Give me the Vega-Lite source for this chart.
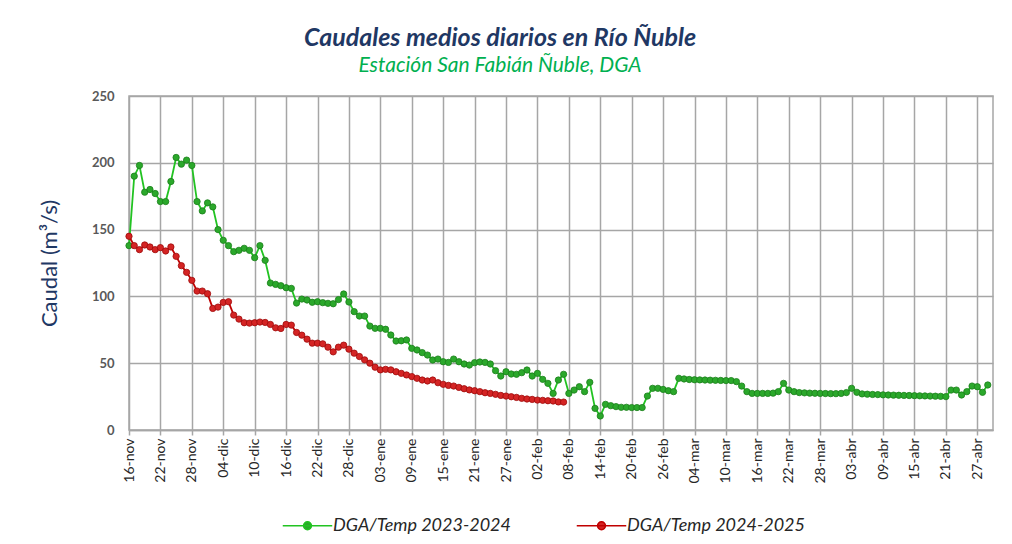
{
  "$schema": "https://vega.github.io/schema/vega-lite/v6.json",
  "width": 864,
  "height": 334,
  "autosize": {"type": "none"},
  "padding": {"left": 129, "top": 96, "right": 19, "bottom": 114},
  "background": "white",
  "config": {
    "font": "Lato",
    "view": {"stroke": "#A6A6A6", "strokeWidth": 1.5}
  },
  "title": {
    "text": "Caudales medios diarios en Río Ñuble",
    "subtitle": "Estación San Fabián Ñuble, DGA",
    "anchor": "middle",
    "dx": -61,
    "offset": 14,
    "font": "Lato",
    "fontSize": 25,
    "fontStyle": "italic",
    "fontWeight": "bold",
    "color": "#1F3864",
    "subtitleFont": "Lato",
    "subtitleFontSize": 21,
    "subtitleFontStyle": "italic",
    "subtitleColor": "#00B050",
    "subtitlePadding": 4
  },
  "data": {
    "values": [
      {"f": "2024-11-16", "a": 138, "b": 145},
      {"f": "2024-11-17", "a": 190, "b": 138},
      {"f": "2024-11-18", "a": 198, "b": 135},
      {"f": "2024-11-19", "a": 178, "b": 138.5},
      {"f": "2024-11-20", "a": 180, "b": 137},
      {"f": "2024-11-21", "a": 177, "b": 135},
      {"f": "2024-11-22", "a": 171, "b": 136.5},
      {"f": "2024-11-23", "a": 171, "b": 134},
      {"f": "2024-11-24", "a": 186, "b": 137},
      {"f": "2024-11-25", "a": 204, "b": 130},
      {"f": "2024-11-26", "a": 199, "b": 123},
      {"f": "2024-11-27", "a": 202, "b": 118},
      {"f": "2024-11-28", "a": 198, "b": 112},
      {"f": "2024-11-29", "a": 171, "b": 104},
      {"f": "2024-11-30", "a": 164, "b": 104},
      {"f": "2024-12-01", "a": 170, "b": 102},
      {"f": "2024-12-02", "a": 167, "b": 91},
      {"f": "2024-12-03", "a": 150, "b": 92},
      {"f": "2024-12-04", "a": 142, "b": 95.5},
      {"f": "2024-12-05", "a": 138, "b": 96},
      {"f": "2024-12-06", "a": 133.5, "b": 86},
      {"f": "2024-12-07", "a": 134.5, "b": 83},
      {"f": "2024-12-08", "a": 136, "b": 80.3},
      {"f": "2024-12-09", "a": 134.5, "b": 80},
      {"f": "2024-12-10", "a": 129, "b": 80.3},
      {"f": "2024-12-11", "a": 138, "b": 80.8},
      {"f": "2024-12-12", "a": 127, "b": 80.5},
      {"f": "2024-12-13", "a": 110, "b": 79},
      {"f": "2024-12-14", "a": 109, "b": 76.5},
      {"f": "2024-12-15", "a": 108, "b": 76},
      {"f": "2024-12-16", "a": 106.5, "b": 79},
      {"f": "2024-12-17", "a": 106, "b": 78.5},
      {"f": "2024-12-18", "a": 95, "b": 73},
      {"f": "2024-12-19", "a": 98, "b": 71},
      {"f": "2024-12-20", "a": 97.3, "b": 68},
      {"f": "2024-12-21", "a": 95.6, "b": 65},
      {"f": "2024-12-22", "a": 96, "b": 65},
      {"f": "2024-12-23", "a": 95.3, "b": 64.5},
      {"f": "2024-12-24", "a": 94.8, "b": 62},
      {"f": "2024-12-25", "a": 94.5, "b": 58.5},
      {"f": "2024-12-26", "a": 97.6, "b": 62},
      {"f": "2024-12-27", "a": 101.8, "b": 63.5},
      {"f": "2024-12-28", "a": 95.8, "b": 60.5},
      {"f": "2024-12-29", "a": 88.6, "b": 57.5},
      {"f": "2024-12-30", "a": 85.3, "b": 55},
      {"f": "2024-12-31", "a": 85.3, "b": 52.5},
      {"f": "2025-01-01", "a": 77.8, "b": 50},
      {"f": "2025-01-02", "a": 76.1, "b": 47},
      {"f": "2025-01-03", "a": 76.1, "b": 45},
      {"f": "2025-01-04", "a": 75.4, "b": 45.4},
      {"f": "2025-01-05", "a": 71.1, "b": 45},
      {"f": "2025-01-06", "a": 66.6, "b": 43.6},
      {"f": "2025-01-07", "a": 66.8, "b": 42.4},
      {"f": "2025-01-08", "a": 67.4, "b": 41.2},
      {"f": "2025-01-09", "a": 61.1, "b": 40},
      {"f": "2025-01-10", "a": 59.9, "b": 38.7},
      {"f": "2025-01-11", "a": 57.9, "b": 37.4},
      {"f": "2025-01-12", "a": 56.1, "b": 36.7},
      {"f": "2025-01-13", "a": 52.4, "b": 37.4},
      {"f": "2025-01-14", "a": 53.1, "b": 35.4},
      {"f": "2025-01-15", "a": 51.1, "b": 34.2},
      {"f": "2025-01-16", "a": 50.6, "b": 33.4},
      {"f": "2025-01-17", "a": 53.1, "b": 32.9},
      {"f": "2025-01-18", "a": 51.1, "b": 31.9},
      {"f": "2025-01-19", "a": 49.4, "b": 30.9},
      {"f": "2025-01-20", "a": 48.6, "b": 30},
      {"f": "2025-01-21", "a": 50.4, "b": 29.4},
      {"f": "2025-01-22", "a": 50.9, "b": 28.7},
      {"f": "2025-01-23", "a": 50.6, "b": 27.9},
      {"f": "2025-01-24", "a": 49.4, "b": 27.4},
      {"f": "2025-01-25", "a": 44.4, "b": 26.7},
      {"f": "2025-01-26", "a": 40.4, "b": 25.9},
      {"f": "2025-01-27", "a": 43.6, "b": 25.4},
      {"f": "2025-01-28", "a": 41.9, "b": 24.9},
      {"f": "2025-01-29", "a": 41.7, "b": 24.4},
      {"f": "2025-01-30", "a": 42.9, "b": 23.7},
      {"f": "2025-01-31", "a": 44.9, "b": 23.2},
      {"f": "2025-02-01", "a": 40.4, "b": 22.9},
      {"f": "2025-02-02", "a": 42.4, "b": 22.4},
      {"f": "2025-02-03", "a": 37.9, "b": 22.2},
      {"f": "2025-02-04", "a": 34.9, "b": 21.9},
      {"f": "2025-02-05", "a": 27.4, "b": 21.7},
      {"f": "2025-02-06", "a": 37.4, "b": 21},
      {"f": "2025-02-07", "a": 41.7, "b": 20.9},
      {"f": "2025-02-08", "a": 27.4},
      {"f": "2025-02-09", "a": 29.9},
      {"f": "2025-02-10", "a": 32.4},
      {"f": "2025-02-11", "a": 28.7},
      {"f": "2025-02-12", "a": 35.7},
      {"f": "2025-02-13", "a": 16.2},
      {"f": "2025-02-14", "a": 10.5},
      {"f": "2025-02-15", "a": 19.2},
      {"f": "2025-02-16", "a": 18.2},
      {"f": "2025-02-17", "a": 17.5},
      {"f": "2025-02-18", "a": 17},
      {"f": "2025-02-19", "a": 17},
      {"f": "2025-02-20", "a": 16.8},
      {"f": "2025-02-21", "a": 16.8},
      {"f": "2025-02-22", "a": 16.8},
      {"f": "2025-02-23", "a": 25.4},
      {"f": "2025-02-24", "a": 31.2},
      {"f": "2025-02-25", "a": 31.2},
      {"f": "2025-02-26", "a": 30.4},
      {"f": "2025-02-27", "a": 29.4},
      {"f": "2025-02-28", "a": 28.7},
      {"f": "2025-03-01", "a": 38.7},
      {"f": "2025-03-02", "a": 38.2},
      {"f": "2025-03-03", "a": 37.8},
      {"f": "2025-03-04", "a": 37.6},
      {"f": "2025-03-05", "a": 37.5},
      {"f": "2025-03-06", "a": 37.4},
      {"f": "2025-03-07", "a": 37.3},
      {"f": "2025-03-08", "a": 37.2},
      {"f": "2025-03-09", "a": 37.1},
      {"f": "2025-03-10", "a": 37},
      {"f": "2025-03-11", "a": 37},
      {"f": "2025-03-12", "a": 36.2},
      {"f": "2025-03-13", "a": 32.9},
      {"f": "2025-03-14", "a": 28.7},
      {"f": "2025-03-15", "a": 27.4},
      {"f": "2025-03-16", "a": 27.4},
      {"f": "2025-03-17", "a": 27.4},
      {"f": "2025-03-18", "a": 27.4},
      {"f": "2025-03-19", "a": 27.6},
      {"f": "2025-03-20", "a": 28.7},
      {"f": "2025-03-21", "a": 34.9},
      {"f": "2025-03-22", "a": 29.9},
      {"f": "2025-03-23", "a": 28.7},
      {"f": "2025-03-24", "a": 28},
      {"f": "2025-03-25", "a": 27.8},
      {"f": "2025-03-26", "a": 27.6},
      {"f": "2025-03-27", "a": 27.5},
      {"f": "2025-03-28", "a": 27.4},
      {"f": "2025-03-29", "a": 27.3},
      {"f": "2025-03-30", "a": 27.2},
      {"f": "2025-03-31", "a": 27.2},
      {"f": "2025-04-01", "a": 27.4},
      {"f": "2025-04-02", "a": 28},
      {"f": "2025-04-03", "a": 31.2},
      {"f": "2025-04-04", "a": 28.2},
      {"f": "2025-04-05", "a": 27},
      {"f": "2025-04-06", "a": 26.8},
      {"f": "2025-04-07", "a": 26.6},
      {"f": "2025-04-08", "a": 26.5},
      {"f": "2025-04-09", "a": 26.3},
      {"f": "2025-04-10", "a": 26.2},
      {"f": "2025-04-11", "a": 26.1},
      {"f": "2025-04-12", "a": 26},
      {"f": "2025-04-13", "a": 25.9},
      {"f": "2025-04-14", "a": 25.8},
      {"f": "2025-04-15", "a": 25.7},
      {"f": "2025-04-16", "a": 25.6},
      {"f": "2025-04-17", "a": 25.5},
      {"f": "2025-04-18", "a": 25.4},
      {"f": "2025-04-19", "a": 25.3},
      {"f": "2025-04-20", "a": 25.2},
      {"f": "2025-04-21", "a": 25},
      {"f": "2025-04-22", "a": 29.9},
      {"f": "2025-04-23", "a": 29.9},
      {"f": "2025-04-24", "a": 26.2},
      {"f": "2025-04-25", "a": 28.7},
      {"f": "2025-04-26", "a": 32.9},
      {"f": "2025-04-27", "a": 32.4},
      {"f": "2025-04-28", "a": 28.2},
      {"f": "2025-04-29", "a": 33.7}
    ]
  },
  "transform": [{"fold": ["a", "b"], "as": ["serie", "q"]}],
  "encoding": {
    "x": {
      "field": "f",
      "type": "temporal",
      "scale": {"type": "utc", "domain": [{"year": 2024, "month": 11, "date": 16, "utc": true}, {"year": 2025, "month": 4, "date": 30, "utc": true}], "nice": false},
      "axis": {
        "title": null,
        "values": [
          {"year": 2024, "month": 11, "date": 16, "utc": true},
          {"year": 2024, "month": 11, "date": 22, "utc": true},
          {"year": 2024, "month": 11, "date": 28, "utc": true},
          {"year": 2024, "month": 12, "date": 4, "utc": true},
          {"year": 2024, "month": 12, "date": 10, "utc": true},
          {"year": 2024, "month": 12, "date": 16, "utc": true},
          {"year": 2024, "month": 12, "date": 22, "utc": true},
          {"year": 2024, "month": 12, "date": 28, "utc": true},
          {"year": 2025, "month": 1, "date": 3, "utc": true},
          {"year": 2025, "month": 1, "date": 9, "utc": true},
          {"year": 2025, "month": 1, "date": 15, "utc": true},
          {"year": 2025, "month": 1, "date": 21, "utc": true},
          {"year": 2025, "month": 1, "date": 27, "utc": true},
          {"year": 2025, "month": 2, "date": 2, "utc": true},
          {"year": 2025, "month": 2, "date": 8, "utc": true},
          {"year": 2025, "month": 2, "date": 14, "utc": true},
          {"year": 2025, "month": 2, "date": 20, "utc": true},
          {"year": 2025, "month": 2, "date": 26, "utc": true},
          {"year": 2025, "month": 3, "date": 4, "utc": true},
          {"year": 2025, "month": 3, "date": 10, "utc": true},
          {"year": 2025, "month": 3, "date": 16, "utc": true},
          {"year": 2025, "month": 3, "date": 22, "utc": true},
          {"year": 2025, "month": 3, "date": 28, "utc": true},
          {"year": 2025, "month": 4, "date": 3, "utc": true},
          {"year": 2025, "month": 4, "date": 9, "utc": true},
          {"year": 2025, "month": 4, "date": 15, "utc": true},
          {"year": 2025, "month": 4, "date": 21, "utc": true},
          {"year": 2025, "month": 4, "date": 27, "utc": true}
        ],
        "labelExpr": "utcFormat(datum.value, '%d') + '-' + ['ene','feb','mar','abr','may','jun','jul','ago','sep','oct','nov','dic'][utcmonth(datum.value)]",
        "labelAngle": -90,
        "labelFontSize": 14,
        "labelColor": "#262626",
        "labelPadding": 3,
        "labelFlush": false,
        "labelOverlap": false,
        "grid": true,
        "gridColor": "#A6A6A6",
        "gridWidth": 1.5,
        "tickColor": "#A6A6A6",
        "tickWidth": 1.5,
        "tickSize": 5,
        "domainColor": "#A6A6A6",
        "domainWidth": 1.5
      }
    },
    "y": {
      "field": "q",
      "type": "quantitative",
      "scale": {"domain": [0, 250], "nice": false},
      "axis": {
        "title": "Caudal (m³/s)",
        "titleFontSize": 22,
        "titleFontWeight": "normal",
        "titleColor": "#1F3864",
        "titlePadding": 30,
        "values": [0, 50, 100, 150, 200, 250],
        "labelFontSize": 13,
        "labelFontWeight": "bold",
        "labelColor": "#595959",
        "labelPadding": 15,
        "ticks": false,
        "domain": false,
        "grid": true,
        "gridColor": "#A6A6A6",
        "gridWidth": 1.5
      }
    }
  },
  "layer": [
    {
      "mark": {"type": "line", "strokeWidth": 1.8},
      "encoding": {
        "color": {
          "field": "serie",
          "type": "nominal",
          "scale": {"domain": ["a", "b"], "range": ["#22C322", "#C00000"]},
          "legend": {
            "orient": "none",
            "legendX": 153,
            "legendY": 404,
            "direction": "horizontal",
            "title": null,
            "columnPadding": 62,
            "labelExpr": "datum.value == 'a' ? 'DGA/Temp 2023-2024' : 'DGA/Temp 2024-2025'",
            "labelLimit": 400,
            "labelFont": "Lato",
            "labelFontStyle": "italic",
            "labelFontSize": 18,
            "labelColor": "#262626",
            "labelOffset": 0,
            "symbolType": "M-1,0H1M0.16,0A0.16,0.16,0,1,1,-0.16,0A0.16,0.16,0,1,1,0.16,0Z",
            "symbolSize": 2450,
            "symbolStrokeWidth": 1.5,
            "encode": {
              "symbols": {
                "update": {
                  "fill": {"scale": "color", "field": "value"},
                  "stroke": {"scale": "color", "field": "value"},
                  "opacity": {"value": 1}
                }
              }
            }
          }
        }
      }
    },
    {
      "mark": {"type": "point", "filled": true, "size": 40, "opacity": 1, "strokeWidth": 0.8},
      "encoding": {
        "color": {"field": "serie", "type": "nominal", "scale": {"domain": ["a", "b"], "range": ["#22C322", "#C00000"]}},
        "fill": {"field": "serie", "type": "nominal", "scale": {"domain": ["a", "b"], "range": ["#2BA82B", "#D42424"]}, "legend": null},
        "stroke": {"field": "serie", "type": "nominal", "scale": {"domain": ["a", "b"], "range": ["#1A7F1A", "#9E0A0A"]}, "legend": null}
      }
    }
  ]
}
